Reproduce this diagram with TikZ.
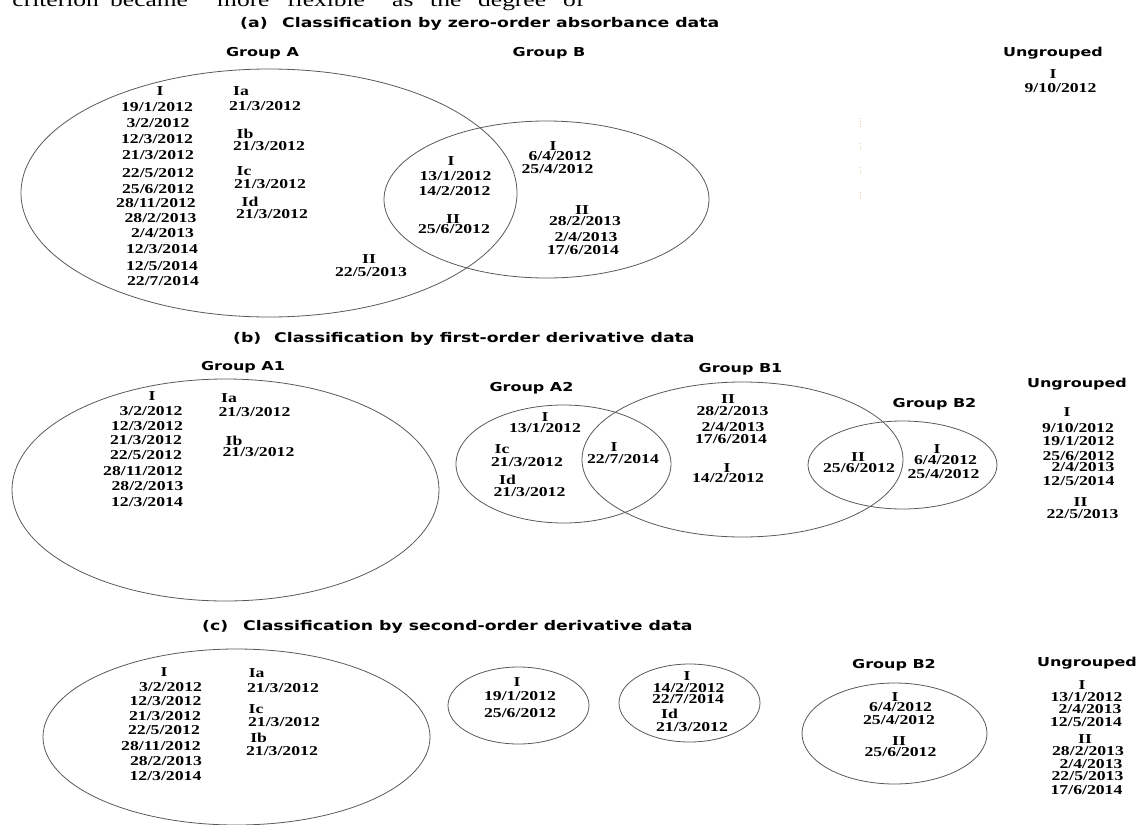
\documentclass[tikz,border=0pt]{standalone}
\usepackage{fontspec}
\newfontfamily\dfam[FakeStretch=1.3]{Liberation Serif}
\newfontfamily\sfam[FakeStretch=1.3]{DejaVu Sans}
\newcounter{tn}
\newcommand\D[3]{\stepcounter{tn}\node[dt] (d\arabic{tn}) at (#1,#2+4.5) {#3};}
\newcommand\G[3]{\stepcounter{tn}\node[lb] (g\arabic{tn}) at (#1,#2+4.5) {#3};}
\newcommand\W[3]{\stepcounter{tn}\node[para,#1] (w\arabic{tn}) at (#2,6) {#3};}
\tikzset{
  dt/.style={font=\dfam\bfseries\fontsize{13.6}{16}\selectfont, anchor=base, inner sep=0pt},
  lb/.style={font=\sfam\bfseries\fontsize{12.3}{14}\selectfont, anchor=base, inner sep=0pt},
  ttl/.style={font=\sfam\bfseries\fontsize{13.3}{15}\selectfont, anchor=base west, inner sep=0pt},
  para/.style={font=\dfam\fontsize{19.6}{22}\selectfont, inner sep=0pt},
  ring/.style={draw=black!65, line width=0.8pt},
  speck/.style={draw={rgb,255:red,235;green,200;blue,150}, dotted, line width=0.7pt}
}
\begin{document}
\begin{tikzpicture}[x=1pt,y=-1pt]
\useasboundingbox (0,0) rectangle (1136,825);
% cut-off line of running text
\W{anchor=base east}{99}{criterion}
\W{anchor=base west}{110}{became}
\W{anchor=base west}{217}{more}
\W{anchor=base west}{287}{flexible}
\W{anchor=base west}{392}{as}
\W{anchor=base west}{430}{the}
\W{anchor=base west}{478}{degree}
\W{anchor=base west}{563}{of}

% ---------------- (a) ----------------
\node[ttl] (ta) at (240,27) {(a)};
\node[ttl] (tat) at (282,27) {Classification by zero-order absorbance data};
\draw[ring] (269,193) ellipse [x radius=248pt, y radius=124pt];
\draw[ring] (546.5,199.5) ellipse [x radius=162.5pt, y radius=78.5pt];
\G{262.5}{52}{Group A}
\G{549}{52}{Group B}
\G{1053}{52}{Ungrouped}
\D{160}{91}{I}
\D{157}{107}{19/1/2012}
\D{158}{123}{3/2/2012}
\D{157}{139}{12/3/2012}
\D{158}{155}{21/3/2012}
\D{158}{173}{22/5/2012}
\D{158}{189}{25/6/2012}
\D{156}{203}{28/11/2012}
\D{160.5}{218}{28/2/2013}
\D{162.5}{233}{2/4/2013}
\D{162}{249}{12/3/2014}
\D{162}{266}{12/5/2014}
\D{163}{281}{22/7/2014}
\D{241}{91}{Ia}
\D{265}{106}{21/3/2012}
\D{245}{134}{Ib}
\D{269}{146}{21/3/2012}
\D{244}{171}{Ic}
\D{270}{184}{21/3/2012}
\D{250}{202}{Id}
\D{272}{214}{21/3/2012}
\D{369}{259}{II}
\D{371}{272}{22/5/2013}
\D{451}{161}{I}
\D{455.5}{176}{13/1/2012}
\D{454.5}{191}{14/2/2012}
\D{453}{219}{II}
\D{454}{229}{25/6/2012}
\D{553}{146}{I}
\D{560}{156}{6/4/2012}
\D{557.5}{169}{25/4/2012}
\D{582}{210}{II}
\D{585}{221}{28/2/2013}
\D{586}{237}{2/4/2013}
\D{583}{250}{17/6/2014}
\D{1053}{74}{I}
\D{1060.5}{88}{9/10/2012}
\draw[speck] (860,118) -- (860,127);
\draw[speck] (860,143) -- (860,150);
\draw[speck] (860,167) -- (860,175);
\draw[speck] (860,192) -- (860,200);

% ---------------- (b) ----------------
\node[ttl] (tb) at (233,342) {(b)};
\node[ttl] (tbt) at (274,342) {Classification by first-order derivative data};
\draw[ring] (225.5,490) ellipse [x radius=213.5pt, y radius=111pt];
\draw[ring] (563.5,464) ellipse [x radius=107.5pt, y radius=59pt];
\draw[ring] (742.5,459.5) ellipse [x radius=160.5pt, y radius=77.5pt];
\draw[ring] (902.5,465) ellipse [x radius=94.5pt, y radius=44pt];
\G{243}{366}{Group A1}
\G{531.5}{387}{Group A2}
\G{740.5}{368}{Group B1}
\G{934.5}{403}{Group B2}
\G{1077}{383}{Ungrouped}
\D{152}{396}{I}
\D{151}{411}{3/2/2012}
\D{147}{426}{12/3/2012}
\D{146}{440}{21/3/2012}
\D{146}{455}{22/5/2012}
\D{143}{471}{28/11/2012}
\D{147.5}{486}{28/2/2013}
\D{147}{502}{12/3/2014}
\D{229}{398}{Ia}
\D{254.5}{412}{21/3/2012}
\D{234}{441}{Ib}
\D{258.5}{452}{21/3/2012}
\D{545}{417}{I}
\D{545}{428}{13/1/2012}
\D{502}{449}{Ic}
\D{527}{462}{21/3/2012}
\D{507.5}{480}{Id}
\D{529.5}{492}{21/3/2012}
\D{614}{447}{I}
\D{623}{459}{22/7/2014}
\D{728}{399}{II}
\D{732.5}{411}{28/2/2013}
\D{733}{427}{2/4/2013}
\D{731}{439}{17/6/2014}
\D{727}{468}{I}
\D{728}{478}{14/2/2012}
\D{858}{457}{II}
\D{859}{468}{25/6/2012}
\D{937}{449}{I}
\D{945.5}{460}{6/4/2012}
\D{943.5}{474}{25/4/2012}
\D{1067}{412}{I}
\D{1078}{428}{9/10/2012}
\D{1078.5}{441}{19/1/2012}
\D{1078.5}{456}{25/6/2012}
\D{1083}{467}{2/4/2013}
\D{1078.5}{481}{12/5/2014}
\D{1080.5}{502}{II}
\D{1082.5}{514}{22/5/2013}

% ---------------- (c) ----------------
\node[ttl] (tc) at (202,630) {(c)};
\node[ttl] (tct) at (243,630) {Classification by second-order derivative data};
\draw[ring] (236.5,737) ellipse [x radius=193.5pt, y radius=88pt];
\draw[ring] (518.5,705.5) ellipse [x radius=70.5pt, y radius=38.5pt];
\draw[ring] (689.5,703) ellipse [x radius=70.5pt, y radius=39pt];
\draw[ring] (894.5,733.5) ellipse [x radius=92.5pt, y radius=50.5pt];
\G{894}{664}{Group B2}
\G{1087}{662}{Ungrouped}
\D{164}{672}{I}
\D{170.5}{687}{3/2/2012}
\D{165.5}{701}{12/3/2012}
\D{165}{716}{21/3/2012}
\D{164}{730}{22/5/2012}
\D{161}{746}{28/11/2012}
\D{166}{761}{28/2/2013}
\D{165.5}{776}{12/3/2014}
\D{256.7}{673}{Ia}
\D{283}{688}{21/3/2012}
\D{256}{709}{Ic}
\D{284}{722}{21/3/2012}
\D{258.7}{738}{Ib}
\D{282}{751}{21/3/2012}
\D{517}{682}{I}
\D{520}{696}{19/1/2012}
\D{520}{713}{25/6/2012}
\D{687}{676}{I}
\D{688.7}{688}{14/2/2012}
\D{688}{699}{22/7/2014}
\D{669.5}{714}{Id}
\D{692}{727}{21/3/2012}
\D{895}{697}{I}
\D{900.5}{707}{6/4/2012}
\D{899}{720}{25/4/2012}
\D{899}{741}{II}
\D{900.5}{752}{25/6/2012}
\D{1082}{685}{I}
\D{1086.5}{697}{13/1/2012}
\D{1090}{709}{2/4/2013}
\D{1086}{722}{12/5/2014}
\D{1085}{739}{II}
\D{1088}{751}{28/2/2013}
\D{1091}{764}{2/4/2013}
\D{1087.5}{776}{22/5/2013}
\D{1086.5}{790}{17/6/2014}
\end{tikzpicture}
\end{document}
